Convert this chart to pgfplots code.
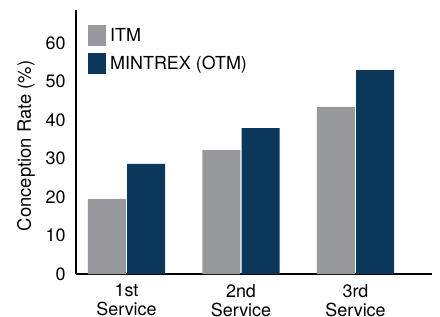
\documentclass[border=0pt]{standalone}
\usepackage{pgfplots}
\pgfplotsset{compat=1.18}
\usepackage{fontspec}
\setmainfont{TeX Gyre Heros}
\definecolor{itmgray}{RGB}{152,153,157}
\definecolor{otmblue}{RGB}{11,56,90}
\begin{document}
\begin{tikzpicture}
\begin{axis}[
  scale only axis,
  width=356bp, height=264bp,
  xmin=-0.441, xmax=2.668,
  ymin=0, ymax=68.6,
  axis x line=bottom, axis y line=left,
  axis line style={line width=1.8bp, -},
  major tick length=0pt,
  xtick={0,1,2},
  xticklabels={1st\\Service,2nd\\Service,3rd\\Service},
  xticklabel style={align=center, font=\fontsize{18}{19}\selectfont, yshift=-6.5bp},
  ytick={0,10,20,30,40,50,60},
  yticklabel style={font=\fontsize{18}{18}\selectfont, xshift=-7bp},
  /pgf/number format/assume math mode=true,
  ylabel={Conception Rate (\%)},
  ylabel style={font=\fontsize{18.5}{18.5}\selectfont, at={(axis description cs:-0.1404,0.485)}, anchor=center},
  ybar, bar width=0.331,
  legend style={at={(axis description cs:0.0337,0.943)}, anchor=north west, draw=none, fill=none,
    font=\fontsize{18}{18}\selectfont, inner sep=0pt, row sep=7bp, column sep=4bp,
    nodes={inner sep=0pt, anchor=west}},
  legend cell align=left,
  legend image code/.code={\fill[#1] (0bp,-10.5bp) rectangle (18bp,10.5bp);},
]
\addplot[fill=itmgray, draw=none, bar shift=-0.171] coordinates {(0,19.5) (1,32.2) (2,43.4)};
\addplot[fill=otmblue, draw=none, bar shift=0.171] coordinates {(0,28.6) (1,37.9) (2,53.0)};
\legend{ITM, MINTREX (OTM)}
\end{axis}
\pgfresetboundingbox
\path (current axis.south west) ++(-76bp,-43bp) coordinate (bl);
\path (current axis.north east) ++(8bp,10bp) coordinate (tr);
\useasboundingbox (bl) rectangle (tr);
\end{tikzpicture}
\end{document}
